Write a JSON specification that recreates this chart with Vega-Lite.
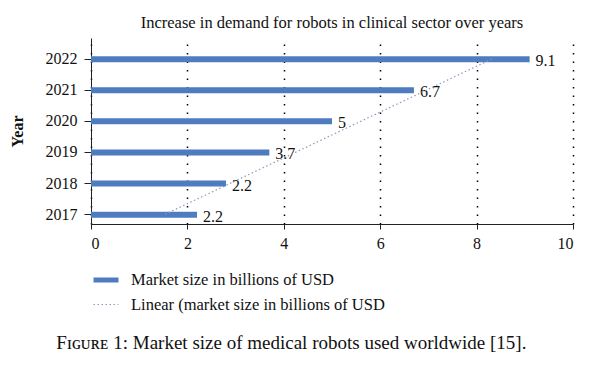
{
  "$schema": "https://vega.github.io/schema/vega-lite/v6.json",
  "background": "white",
  "padding": {"left": 9, "top": 14, "right": 5, "bottom": 5},
  "config": {
    "font": "Liberation Serif",
    "view": {"stroke": null},
    "concat": {"spacing": 0}
  },
  "datasets": {
    "bars": [
      {"year": "2017", "value": 2.2, "label": "2.2"},
      {"year": "2018", "value": 2.8, "label": "2.2"},
      {"year": "2019", "value": 3.7, "label": "3.7"},
      {"year": "2020", "value": 5.0, "label": "5"},
      {"year": "2021", "value": 6.7, "label": "6.7"},
      {"year": "2022", "value": 9.1, "label": "9.1"}
    ],
    "trend": [
      {"year": "2017", "trend": 1.52, "series": "Linear (market size in billions of USD"},
      {"year": "2022", "trend": 8.31, "series": "Linear (market size in billions of USD"}
    ]
  },
  "title": {
    "text": "Fɪɢᴜʀᴇ 1: Market size of medical robots used worldwide [15].",
    "orient": "bottom",
    "anchor": "middle",
    "fontSize": 19,
    "fontWeight": "normal",
    "color": "#111",
    "offset": 21
  },
  "vconcat": [
    {
      "title": {
        "text": "Increase in demand for robots in clinical sector over years",
        "fontSize": 16.5,
        "fontWeight": "normal",
        "color": "#111",
        "anchor": "middle",
        "offset": 7
      },
      "width": 482,
      "height": 186,
      "layer": [
        {
          "data": {"name": "bars"},
          "mark": {"type": "bar", "size": 6, "color": "#4f7bbf"},
          "encoding": {
            "y": {
              "field": "year", "type": "ordinal", "sort": "descending",
              "scale": {"paddingInner": 0.4, "paddingOuter": 0.19, "align": 1},
              "axis": {
                "title": "Year", "titleFontSize": 16, "titleFontWeight": "bold", "titleColor": "#111",
                "titlePadding": 20,
                "labelFontSize": 16, "labelColor": "#111", "labelPadding": 7,
                "tickSize": 7, "tickColor": "#222", "domainColor": "#222", "grid": false
              }
            },
            "x": {
              "field": "value", "type": "quantitative",
              "scale": {"domain": [0, 10], "nice": false},
              "axis": {
                "title": null, "values": [0, 2, 4, 6, 8, 10], "format": "d",
                "labelFontSize": 16, "labelColor": "#111", "labelPadding": 6,
                "tickSize": 5, "tickColor": "#222", "domainColor": "#222",
                "grid": true, "gridColor": "#000", "gridDash": [1.5, 7], "gridWidth": 1.5
              }
            }
          }
        },
        {
          "data": {"name": "bars"},
          "mark": {"type": "text", "align": "left", "baseline": "middle", "dx": 6, "dy": 2, "fontSize": 16, "color": "#111"},
          "encoding": {
            "y": {"field": "year", "type": "ordinal", "sort": "descending"},
            "x": {"field": "value", "type": "quantitative"},
            "text": {"field": "label", "type": "nominal"}
          }
        },
        {
          "data": {"name": "trend"},
          "mark": {"type": "line"},
          "encoding": {
            "y": {"field": "year", "type": "ordinal", "sort": "descending"},
            "x": {"field": "trend", "type": "quantitative"},
            "color": {
              "field": "series", "type": "nominal",
              "scale": {"domain": ["Market size in billions of USD", "Linear (market size in billions of USD"], "range": ["#4f7bbf", "#8a99bd"]},
              "legend": {
                "title": null, "orient": "bottom", "direction": "vertical",
                "symbolType": "stroke", "symbolSize": 625, "labelFontSize": 16.5, "labelColor": "#111",
                "labelOffset": 10, "rowPadding": 1, "offset": 14, "labelLimit": 400
              }
            },
            "strokeDash": {
              "field": "series", "type": "nominal",
              "scale": {"domain": ["Market size in billions of USD", "Linear (market size in billions of USD"], "range": [[1, 0], [1.5, 2.5]]}
            },
            "strokeWidth": {
              "field": "series", "type": "nominal",
              "scale": {"type": "ordinal", "domain": ["Market size in billions of USD", "Linear (market size in billions of USD"], "range": [5, 1.2]}
            }
          }
        }
      ]
    }
  ]
}
